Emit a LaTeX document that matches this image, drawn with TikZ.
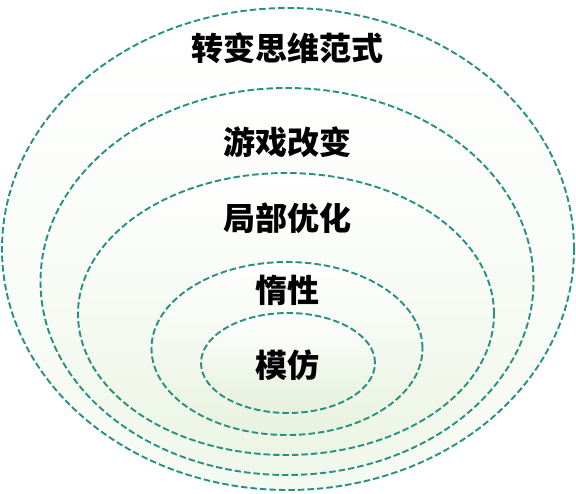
\documentclass[tikz,border=0pt]{standalone}
\usepackage{fontspec}
\newfontfamily\cjk{Noto Sans CJK SC}
\usepackage{tikz}
\usetikzlibrary{shapes, positioning, calc}

\definecolor{ringteal}{RGB}{38,145,130}

\begin{document}
\begin{tikzpicture}[x=1pt, y=-1pt, ring/.style={ellipse, draw=ringteal, line width=1.9pt, dash pattern=on 6.5pt off 3pt, inner sep=0pt, top color=white}, tag/.style={font=\cjk\bfseries\fontsize{32}{32}\selectfont, inner sep=0pt}]
  \useasboundingbox (0,0) rectangle (576,493);

  \node[ring, bottom color={rgb,255:red,245;green,250;blue,241}, minimum width=572pt, minimum height=482pt] (paradigm) at (288,249) {};
  \node[ring, bottom color={rgb,255:red,240;green,247;blue,234}, minimum width=493pt, minimum height=387pt] (game) at (287,281.5) {};
  \node[ring, bottom color={rgb,255:red,236;green,245;blue,228}, minimum width=416pt, minimum height=282pt] (local) at (286,314) {};
  \node[ring, bottom color={rgb,255:red,232;green,242;blue,223}, minimum width=271pt, minimum height=173pt] (inertia) at (287,348.5) {};
  \node[ring, bottom color={rgb,255:red,229;green,241;blue,219}, minimum width=174pt, minimum height=100pt] (imitate) at (288,363) {};

  \node[tag] (t1) at (287,48) {转变思维范式};
  \node[tag] (t2) at (287,142) {游戏改变};
  \node[tag] (t3) at (287,218) {局部优化};
  \node[tag] (t4) at (287,290) {惰性};
  \node[tag] (t5) at (287,365) {模仿};
\end{tikzpicture}
\end{document}
